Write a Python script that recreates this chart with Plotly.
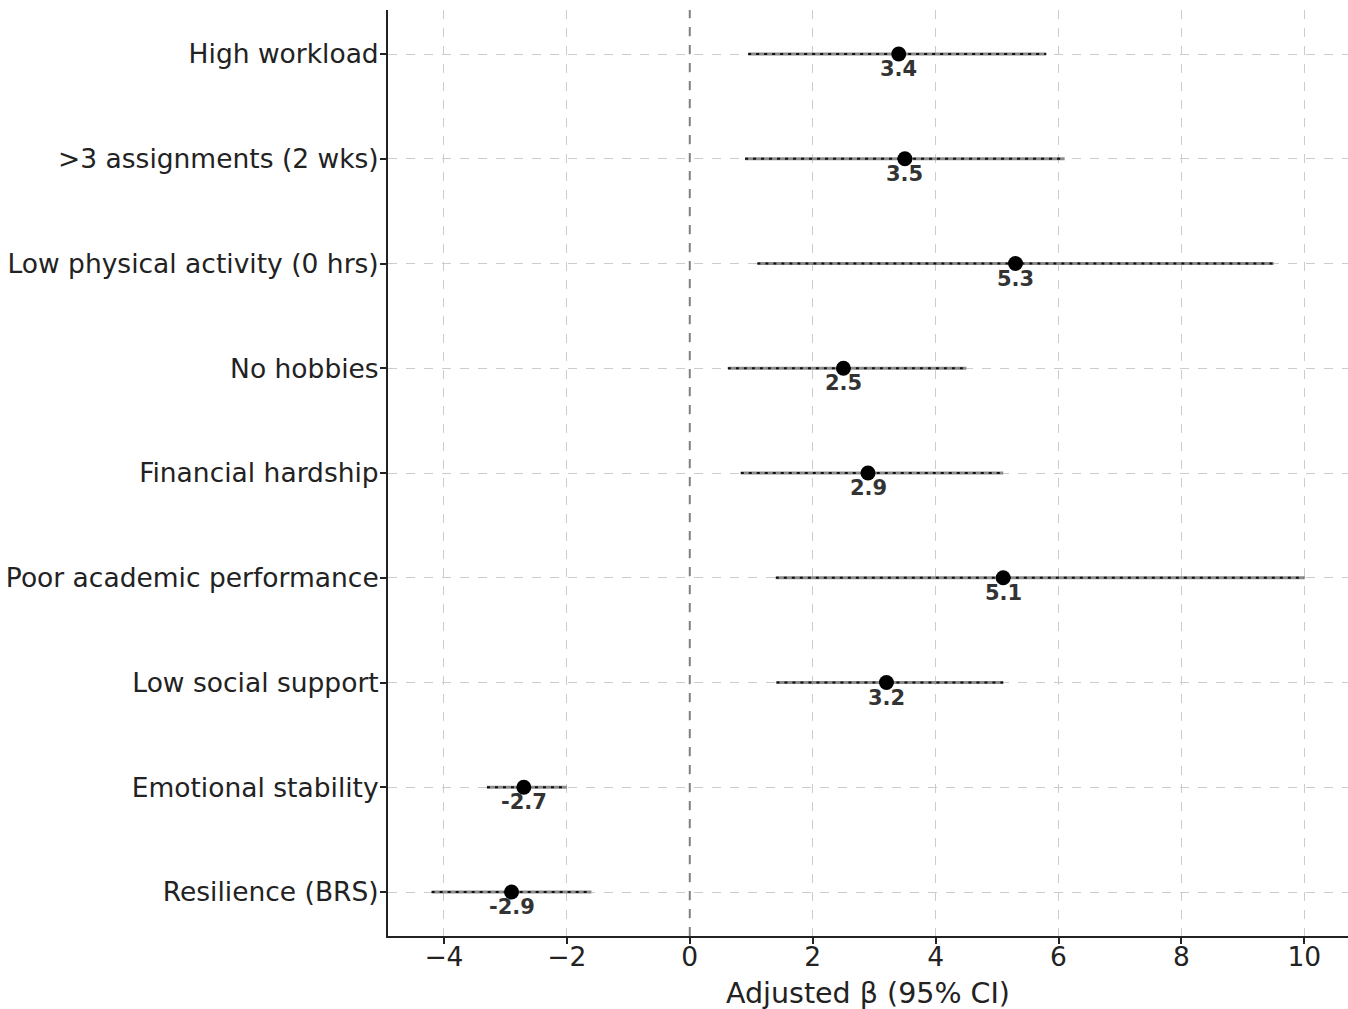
import plotly.graph_objects as go

factors = ["High workload", ">3 assignments (2 wks)", "Low physical activity (0 hrs)",
           "No hobbies", "Financial hardship", "Poor academic performance",
           "Low social support", "Emotional stability", "Resilience (BRS)"]
beta = [3.4, 3.5, 5.3, 2.5, 2.9, 5.1, 3.2, -2.7, -2.9]
ci_low = [0.95, 0.9, 1.1, 0.62, 0.83, 1.4, 1.41, -3.3, -4.2]
ci_high = [5.8, 6.1, 9.5, 4.5, 5.1, 10.0, 5.1, -2.0, -1.6]
x_ticks = [-4, -2, 0, 2, 4, 6, 8, 10]
x_tick_text = ["\u22124", "\u22122", "0", "2", "4", "6", "8", "10"]

ypos = list(range(len(factors)))
FONT = "DejaVu Sans"

fig = go.Figure()

# CI lines (gray band with dark dotted core)
for i in ypos:
    fig.add_trace(go.Scatter(
        x=[ci_low[i], ci_high[i]], y=[i, i], mode="lines",
        line=dict(color="#8c8c8c", width=3), showlegend=False, hoverinfo="skip"))
    fig.add_trace(go.Scatter(
        x=[ci_low[i], ci_high[i]], y=[i, i], mode="lines",
        line=dict(color="#111111", width=2, dash="3px,5px"), showlegend=False,
        hoverinfo="skip"))

# Points
fig.add_trace(go.Scatter(
    x=beta, y=ypos, mode="markers",
    marker=dict(color="black", size=15), showlegend=False))

# Value labels
for i in ypos:
    fig.add_annotation(x=beta[i], y=i, text=f"<b>{beta[i]:.1f}</b>", showarrow=False,
                       yshift=-15, xanchor="center", yanchor="middle",
                       font=dict(family=FONT, size=21, color="#333333"))

# Zero reference line
fig.add_shape(type="line", x0=0, x1=0, y0=0, y1=1, xref="x", yref="paper",
              line=dict(color="#808080", width=2, dash="dash"), layer="above")

# x-axis title
fig.add_annotation(x=0.5, y=0, xref="paper", yref="paper", yshift=-57,
                   text="Adjusted \u03b2 (95% CI)", showarrow=False,
                   xanchor="center", yanchor="middle",
                   font=dict(family=FONT, size=28.5, color="#222222"))

fig.update_layout(
    width=1348, height=1009,
    margin=dict(l=388, r=0, t=10, b=73),
    paper_bgcolor="white", plot_bgcolor="white",
    font=dict(family=FONT, size=26, color="#222222"),
    xaxis=dict(
        range=[-4.91, 10.71], tickvals=x_ticks, ticktext=x_tick_text,
        automargin=False,
        showgrid=True, gridcolor="#cccccc", gridwidth=1, griddash="dash",
        zeroline=False, showline=True, linecolor="#222222", linewidth=2,
        ticks="outside", ticklen=6, tickwidth=1.5, tickcolor="#222222",
        ticklabelstandoff=-10,
        tickfont=dict(family=FONT, size=26.5, color="#222222"),
    ),
    yaxis=dict(
        range=[8.42, -0.42], tickvals=ypos, ticktext=factors,
        automargin=False,
        showgrid=True, gridcolor="#cccccc", gridwidth=1, griddash="dash",
        zeroline=False, showline=True, linecolor="#222222", linewidth=2,
        ticks="outside", ticklen=6, tickwidth=1.5, tickcolor="#222222",
        ticklabelstandoff=-4,
        tickfont=dict(family=FONT, size=26.5, color="#222222"),
    ),
)

fig.write_html("out.html", config={"displayModeBar": False},
               post_script="document.body.style.margin='0px';document.body.style.overflow='hidden';")
